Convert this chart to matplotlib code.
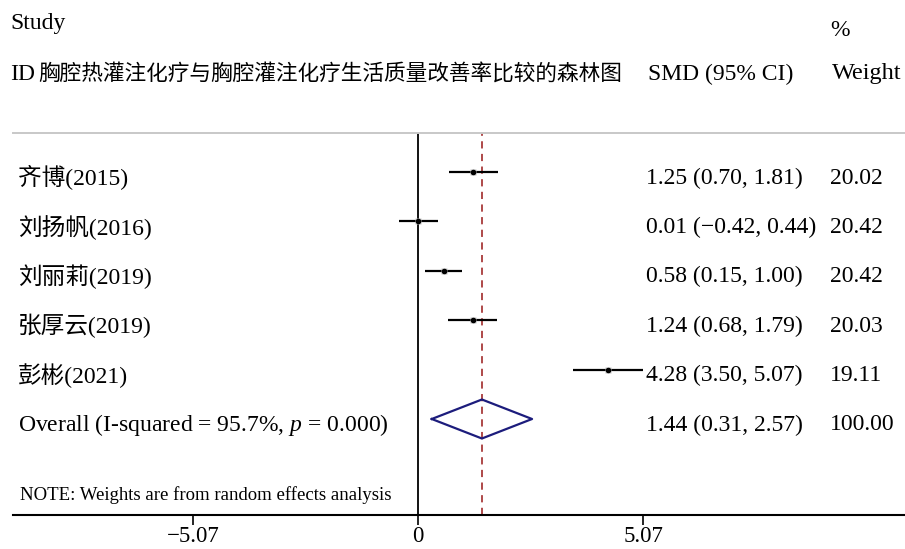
import matplotlib
matplotlib.use("Agg")
import matplotlib.pyplot as plt
from matplotlib.transforms import blended_transform_factory

plt.rcParams['font.family'] = ['Liberation Serif', 'Noto Sans CJK SC']
plt.rcParams['mathtext.fontset'] = 'custom'
plt.rcParams['mathtext.it'] = 'Liberation Serif:italic'
plt.rcParams['mathtext.rm'] = 'Liberation Serif'

# data
studies = ['齐博(2015)', '刘扬帆(2016)', '刘丽莉(2019)', '张厚云(2019)', '彭彬(2021)']
smd = [1.25, 0.01, 0.58, 1.24, 4.28]
ci_low = [0.70, -0.42, 0.15, 0.68, 3.50]
ci_high = [1.81, 0.44, 1.00, 1.79, 5.07]
weights = [20.02, 20.42, 20.42, 20.03, 19.11]
overall_label = 'Overall (I-squared = 95.7%, $p$ = 0.000)'
overall_smd = 1.44
overall_low = 0.31
overall_high = 2.57
overall_weight = 100.00
x_ticks = [-5.07, 0, 5.07]
title = '胸腔热灌注化疗与胸腔灌注化疗生活质量改善率比较的森林图'

W, H = 905, 549
fig = plt.figure(figsize=(W / 100, H / 100), dpi=100)
ax = fig.add_axes([13 / W, 1 - 515 / H, 1 - 13 / W, (515 - 133) / H])

px_per_unit = (643 - 418) / 5.07
ax.set_xlim((13 - 418) / px_per_unit, (905 - 418) / px_per_unit)
row_h = 49.4
n = len(studies)
ax.set_ylim(n + (515 - 419) / row_h, -(172 - 133) / row_h)

for s in ['left', 'right']:
    ax.spines[s].set_visible(False)
ax.spines['top'].set_color('#c8c8c8')
ax.spines['top'].set_linewidth(1.4)
ax.spines['bottom'].set_linewidth(1.5)
ax.set_yticks([])
ax.set_xticks(x_ticks)
ax.set_xticklabels([f'{t:.2f}'.replace('-', '\u2212') if t != 0 else '0' for t in x_ticks])
ax.tick_params(axis='x', direction='out', length=7, width=1.2, labelsize=16.5, pad=1)

ax.axvline(0, color='black', lw=1.3)
ax.axvline(overall_smd, color='#a83a3a', lw=1.3, ls=(0, (4, 3)))

for i in range(n):
    ax.plot([ci_low[i], ci_high[i]], [i, i], color='black', lw=1.6, solid_capstyle='butt')
    ax.plot(smd[i], i, marker='s', ms=5, color='#c0c0c0', mec='none')
    ax.plot(smd[i], i, marker='o', ms=3, color='black')

half = (438 - 399) / 2 / row_h
ax.plot([overall_low, overall_smd, overall_high, overall_smd, overall_low],
        [n, n - half, n, n + half, n], color='#1c1c7c', lw=1.6)

# text columns
fs = 17
tr = blended_transform_factory(fig.transFigure, ax.transData)
text_shift = 6 / row_h


def fx(px):
    return px / W


def fy(py):
    return 1 - py / H


fig.text(fx(10), fy(24), 'Study', fontsize=fs, va='center')
fig.text(fx(830), fy(30), '%', fontsize=fs, va='center')
fig.text(fx(10), fy(74), 'ID', fontsize=fs, va='center')
fig.text(fx(38), fy(74), title, fontsize=15.6, va='center')
fig.text(fx(648), fy(74), 'SMD (95% CI)', fontsize=fs, va='center')
fig.text(fx(832), fy(74), 'Weight', fontsize=17.5, va='center')

labels = studies + [overall_label]
est = smd + [overall_smd]
lows = ci_low + [overall_low]
highs = ci_high + [overall_high]
wts = weights + [overall_weight]
for i in range(n + 1):
    y = i + text_shift
    fig.text(fx(18), y, labels[i], fontsize=fs, va='center', transform=tr)
    s = f'{est[i]:.2f} ({lows[i]:.2f}, {highs[i]:.2f})'.replace('-', '\u2212')
    fig.text(fx(646), y, s, fontsize=fs, va='center', transform=tr)
    fig.text(fx(830), y, f'{wts[i]:.2f}', fontsize=fs, va='center', transform=tr)

fig.text(fx(20), fy(495), 'NOTE: Weights are from random effects analysis', fontsize=13.5, va='center')

fig.savefig('out.png', dpi=100, facecolor='white')
